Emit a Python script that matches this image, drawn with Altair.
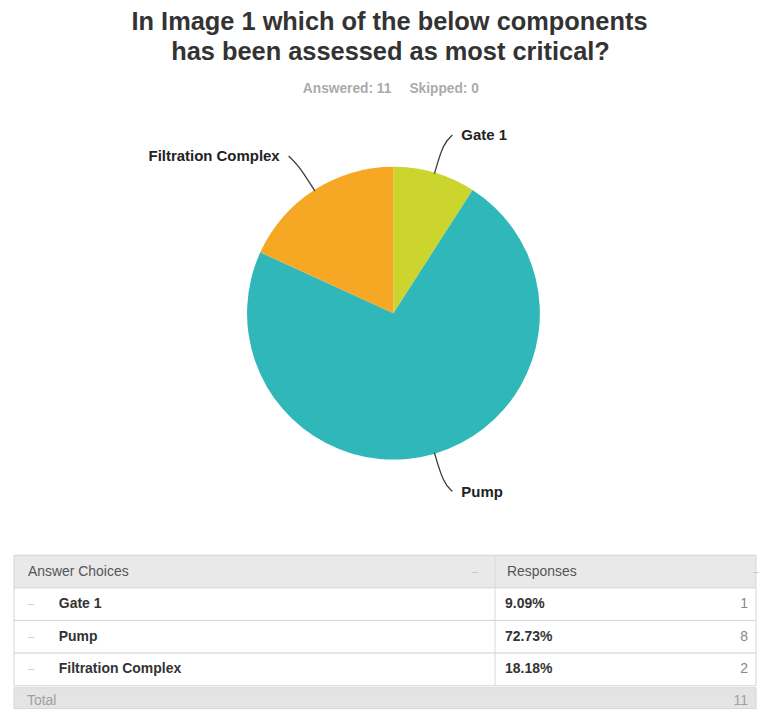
import math
import altair as alt
import pandas as pd

# ---- data ----
choices = ["Gate 1", "Pump", "Filtration Complex"]
counts = [1, 8, 2]
percents = ["9.09%", "72.73%", "18.18%"]
colors = ["#cbd52d", "#2fb7b9", "#f6a723"]
total_label = "11"
title_lines = ["In Image 1 which of the below components", "has been assessed as most critical?"]
subtitle_parts = ["Answered: 11", "Skipped: 0"]
header_labels = ["Answer Choices", "Responses"]

FONT = "Liberation Sans"

# ---- layout (page pixel coordinates) ----
PX0, PX1 = 8, 759
PY0, PY1 = 8, 555
CX, CY, R = 395, 313, 147

total = sum(counts)
rows = []
cum = 0
for i, (c, n) in enumerate(zip(choices, counts)):
    a0 = cum / total * 2 * math.pi
    cum += n
    a1 = cum / total * 2 * math.pi
    rows.append(dict(choice=c, count=n, idx=i, mid=(a0 + a1) / 2))
pie_df = pd.DataFrame(rows)
pie_df["cx"] = CX
pie_df["cy"] = CY

line_rows, label_rows = [], []
for r in rows:
    a = r["mid"]
    s, co = math.sin(a), math.cos(a)
    sx = 1 if s > 0 else -1
    sy = -1 if co > 0 else 1
    p0 = (CX + (R - 1) * s, CY - (R - 1) * co)
    p1 = (CX + (R + 31) * s, CY - (R + 31) * co)
    p2 = (p1[0] + 9 * sx, p1[1] + 8 * sy)
    for k, p in enumerate([p0, p1, p2]):
        line_rows.append(dict(choice=r["choice"], k=k, x=p[0], y=p[1]))
    label_rows.append(dict(choice=r["choice"], x=p2[0] + 9 * sx, y=p2[1] + (0 if sy < 0 else 1),
                           align="left" if sx > 0 else "right"))
line_df = pd.DataFrame(line_rows)
label_df = pd.DataFrame(label_rows)

xs = alt.Scale(domain=[PX0, PX1])
ys = alt.Scale(domain=[PY0, PY1], reverse=True)
X = lambda f: alt.X(f, scale=xs, axis=None)
Y = lambda f: alt.Y(f, scale=ys, axis=None)

pie = alt.Chart(pie_df).mark_arc(radius=R).encode(
    x=X("cx:Q"), y=Y("cy:Q"),
    theta=alt.Theta("count:Q", stack=True),
    order=alt.Order("idx:Q"),
    color=alt.Color("choice:N", scale=alt.Scale(domain=choices, range=colors), legend=None),
)

leaders = alt.Chart(line_df).mark_line(interpolate="basis", color="#3a3a3a", strokeWidth=1.3).encode(
    x=X("x:Q"), y=Y("y:Q"), detail="choice:N", order="k:Q",
)

lab_left = alt.Chart(label_df[label_df["align"] == "left"]).mark_text(
    align="left", baseline="middle", font=FONT, fontSize=15, fontWeight="bold", color="#222"
).encode(x=X("x:Q"), y=Y("y:Q"), text="choice:N")

lab_right = alt.Chart(label_df[label_df["align"] == "right"]).mark_text(
    align="right", baseline="middle", font=FONT, fontSize=15, fontWeight="bold", color="#222"
).encode(x=X("x:Q"), y=Y("y:Q"), text="choice:N")

title_df = pd.DataFrame({"t": title_lines, "x": [391, 392], "y": [21, 51]})
title = alt.Chart(title_df).mark_text(
    align="center", baseline="middle", font=FONT, fontSize=25.5, fontWeight="bold", color="#333"
).encode(x=X("x:Q"), y=Y("y:Q"), text="t:N")

sub_df = pd.DataFrame({"t": subtitle_parts, "x": [304, 411], "y": [88, 88]})
sub = alt.Chart(sub_df).mark_text(
    align="left", baseline="middle", font=FONT, fontSize=13.8, fontWeight="bold", color="#ababab"
).encode(x=X("x:Q"), y=Y("y:Q"), text="t:N")

top = alt.layer(pie, leaders, lab_left, lab_right, title, sub).properties(
    width=PX1 - PX0, height=PY1 - PY0
)

# ---- table ----
TW = PX1 - PX0
ROW_H = 32.75
row_keys = ["header", "Gate 1", "Pump", "Filtration Complex"]
tbl_df = pd.DataFrame({
    "row": row_keys,
    "kind": ["head", "data", "data", "data"],
    "c1": [header_labels[0], choices[0], choices[1], choices[2]],
    "c2": [header_labels[1], percents[0], percents[1], percents[2]],
    "c3": ["", str(counts[0]), str(counts[1]), str(counts[2])],
})
yb = alt.Y("row:N", sort=row_keys, scale=alt.Scale(paddingInner=0, paddingOuter=0), axis=None)
L = 6  # table left edge in chart px
DIV = 489
FS = 14

bg = alt.Chart(tbl_df).mark_rect(stroke="#d6d6d6", strokeWidth=1).encode(
    y=yb, x=alt.value(L), x2=alt.value(TW),
    fill=alt.Color("kind:N", scale=alt.Scale(domain=["head", "data", "total"],
                                              range=["#e9e9e9", "#ffffff", "#e4e4e4"]), legend=None),
)
divider = alt.Chart(pd.DataFrame({"a": [0]})).mark_rule(color="#dadada", strokeWidth=1).encode(
    x=alt.value(DIV), y=alt.value(0), y2=alt.value(ROW_H * len(row_keys))
)

head = tbl_df[tbl_df["kind"] == "head"]
data = tbl_df[tbl_df["kind"] == "data"]

h1 = alt.Chart(head).mark_text(align="left", baseline="middle", font=FONT, fontSize=FS, color="#555").encode(
    y=yb, x=alt.value(20), text="c1:N")
h2 = alt.Chart(head).mark_text(align="left", baseline="middle", font=FONT, fontSize=FS, color="#555").encode(
    y=yb, x=alt.value(501), text="c2:N")
hicon1 = alt.Chart(head).mark_text(align="center", baseline="middle", font=FONT, fontSize=10, color="#bbb").encode(
    y=yb, x=alt.value(469), text=alt.value("–"))
hicon2 = alt.Chart(head).mark_text(align="center", baseline="middle", font=FONT, fontSize=10, color="#bbb").encode(
    y=yb, x=alt.value(751), text=alt.value("–"))
dash = alt.Chart(data).mark_text(align="center", baseline="middle", font=FONT, fontSize=10, color="#b5b5b5").encode(
    y=yb, x=alt.value(23), text=alt.value("–"))
d1 = alt.Chart(data).mark_text(align="left", baseline="middle", font=FONT, fontSize=FS, fontWeight="bold", color="#333").encode(
    y=yb, x=alt.value(51), text="c1:N")
d2 = alt.Chart(data).mark_text(align="left", baseline="middle", font=FONT, fontSize=FS, fontWeight="bold", color="#333").encode(
    y=yb, x=alt.value(499), text="c2:N")
d3 = alt.Chart(data).mark_text(align="right", baseline="middle", font=FONT, fontSize=FS, color="#888").encode(
    y=yb, x=alt.value(743), text="c3:N")

table = alt.layer(bg, divider, h1, h2, hicon1, hicon2, dash, d1, d2, d3).properties(
    width=TW, height=ROW_H * len(row_keys)
)

# ---- total row ----
TOT_H = 21
tot_df = pd.DataFrame({"row": ["total"], "c1": ["Total"], "c3": [total_label]})
ytb = alt.Y("row:N", scale=alt.Scale(paddingInner=0, paddingOuter=0), axis=None)
tbg = alt.Chart(tot_df).mark_rect(fill="#e4e4e4", stroke="#d6d6d6", strokeWidth=1).encode(
    y=ytb, x=alt.value(L), x2=alt.value(TW))
t1 = alt.Chart(tot_df).mark_text(align="left", baseline="middle", dy=3, font=FONT, fontSize=FS, color="#a0a0a0").encode(
    y=ytb, x=alt.value(19), text="c1:N")
t3 = alt.Chart(tot_df).mark_text(align="right", baseline="middle", dy=3, font=FONT, fontSize=FS, color="#a0a0a0").encode(
    y=ytb, x=alt.value(743), text="c3:N")
total_row = alt.layer(tbg, t1, t3).properties(width=TW, height=TOT_H)

chart = alt.vconcat(top, table, total_row, spacing=0).properties(
    padding=0, background="white"
).configure_view(strokeWidth=0, stroke="transparent")

chart.save("out.html", embed_options={"renderer": "svg", "actions": False})
